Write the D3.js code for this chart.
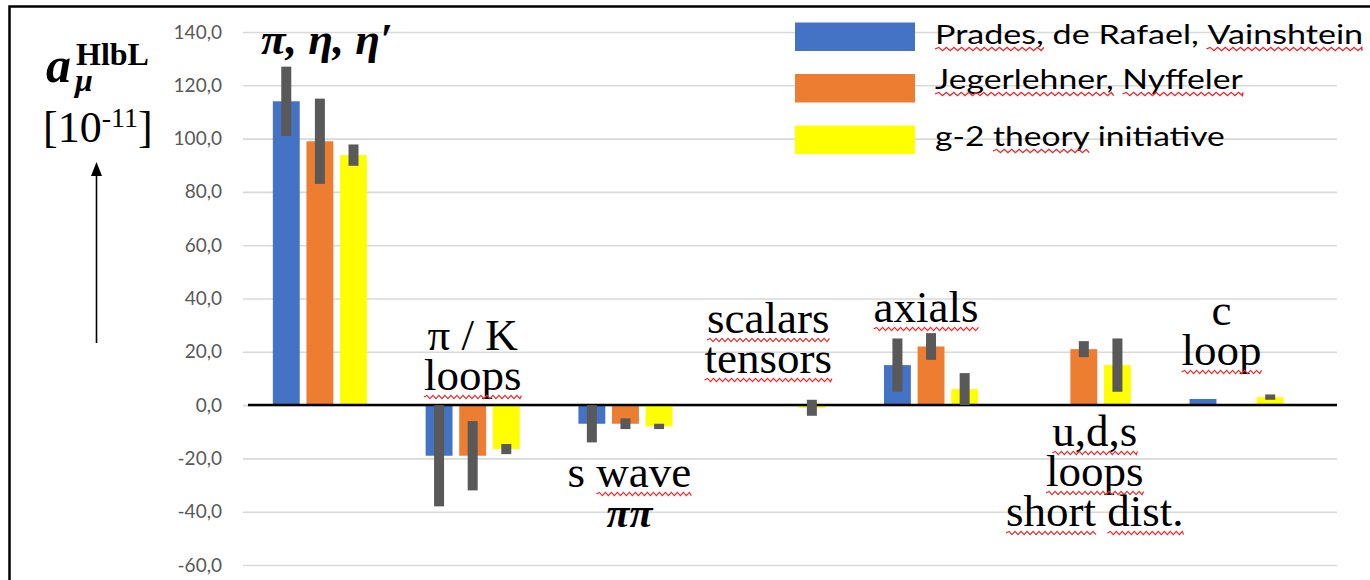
<!DOCTYPE html>
<html>
<head>
<meta charset="utf-8">
<script src="https://cdn.jsdelivr.net/npm/d3@7"></script>
<style>
  body { margin: 0; background: #fff; }
  svg { display: block; }
</style>
</head>
<body>
<svg width="1370" height="580"></svg>
<script>
// Categories and their text labels (one entry per line)
const categories = ["pseudoscalars", "piK", "swave", "scalars", "axials", "uds", "charm"];
const catLabels = [
    ["π, η, η′"],
    ["π / K", "loops"],
    ["s wave", "ππ"],
    ["scalars", "tensors"],
    ["axials"],
    ["u,d,s", "loops", "short dist."],
    ["c", "loop"]
];
// lines typeset in bold italic (math)
const catLabelMath = [[true], [false, false], [false, true], [false, false], [false], [false, false, false], [false, false]];

// Series (legend order)
const seriesNames = ["Prades, de Rafael, Vainshtein", "Jegerlehner, Nyffeler", "g-2 theory initiative"];
const seriesColors = ["#4472C4", "#ED7D31", "#FFFF00"];

// Values in units of 10^-11 (null = no contribution shown)
const pdrvValues = [114, -19, -7, null, 15, null, 2.3];
const pdrvErrors = [13, 19, 7, null, 10, null, 0];
const jnValues   = [99, -19, -7, null, 22, 21, null];
const jnErrors   = [16, 13, 2, null, 5, 3, null];
const wpValues   = [93.8, -16.5, -8, -1, 6, 15, 3];
const wpErrors   = [4, 1.9, 1, 3, 6, 10, 1];

const yTicks = [-60, -40, -20, 0, 20, 40, 60, 80, 100, 120, 140];

// words marked by the spell checker in the original slide
const spellMarked = new Set(["loops", "wave", "scalars", "tensors", "axials", "u,d,s", "short", "dist.", "loop",
                             "Prades,", "Vainshtein", "Jegerlehner,", "Nyffeler", "theory"]);

const svg = d3.select("svg");

// plot geometry
const plotLeft = 243, plotRight = 1337;

const x0 = d3.scaleBand()
    .domain(categories)
    .range([243.5, 1313])
    .paddingInner(0.384)
    .paddingOuter(0.192);

const x1 = d3.scaleBand()
    .domain(seriesNames)
    .range([0, x0.bandwidth()])
    .paddingInner(0.2);

const y = d3.scaleLinear()
    .domain([-60, 140])
    .range([565, 32]);

const color = d3.scaleOrdinal().domain(seriesNames).range(seriesColors);

// frame around the slide region
svg.append("rect")
    .attr("x", 9.5).attr("y", 6.5)
    .attr("width", 1500).attr("height", 700)
    .attr("fill", "none")
    .attr("stroke", "#000")
    .attr("stroke-width", 2.5);

// y axis with grid lines
svg.append("g")
    .attr("transform", `translate(${plotLeft},0)`)
    .call(d3.axisLeft(y)
        .tickValues(yTicks)
        .tickSize(-(plotRight - plotLeft))
        .tickPadding(21)
        .tickFormat(d => d3.format(".1f")(d).replace(".", ",").replace("−", "-")))
    .call(g => g.select(".domain").remove())
    .call(g => g.selectAll(".tick line").attr("stroke", "#d9d9d9").attr("stroke-width", 1.6))
    .call(g => g.selectAll(".tick text")
        .attr("fill", "#595959")
        .style("font-family", "Lato, 'Open Sans', sans-serif")
        .style("font-size", "19px"));

// flatten data for drawing
const rows = [
    { values: pdrvValues, errors: pdrvErrors },
    { values: jnValues, errors: jnErrors },
    { values: wpValues, errors: wpErrors }
];
const bars = [];
categories.forEach((c, i) => {
    seriesNames.forEach((s, j) => {
        const v = rows[j].values[i];
        if (v === null) return;
        bars.push({ cat: c, series: s, value: v, error: rows[j].errors[i] });
    });
});

const barG = svg.append("g");
barG.selectAll("rect")
    .data(bars)
    .join("rect")
    .attr("x", d => x0(d.cat) + x1(d.series))
    .attr("width", x1.bandwidth())
    .attr("y", d => y(Math.max(0, d.value)))
    .attr("height", d => Math.abs(y(d.value) - y(0)))
    .attr("fill", d => color(d.series));

// zero line
svg.append("line")
    .attr("x1", 248).attr("x2", plotRight)
    .attr("y1", y(0)).attr("y2", y(0))
    .attr("stroke", "#000")
    .attr("stroke-width", 2.5);

// error bars (thick dark grey)
const errW = 10;
svg.append("g").selectAll("rect")
    .data(bars.filter(d => d.error > 0))
    .join("rect")
    .attr("x", d => x0(d.cat) + x1(d.series) + x1.bandwidth() / 2 - errW / 2)
    .attr("width", errW)
    .attr("y", d => y(d.value + d.error))
    .attr("height", d => y(d.value - d.error) - y(d.value + d.error))
    .attr("fill", "#595959");

// wavy red underline
function squiggle(g, xa, xb, yy) {
    const p = d3.path();
    p.moveTo(xa, yy);
    let up = true;
    for (let xx = xa; xx < xb; xx += 3) {
        p.lineTo(Math.min(xx + 3, xb), yy + (up ? -1.6 : 1.6));
        up = !up;
    }
    g.append("path")
        .attr("d", p.toString())
        .attr("fill", "none")
        .attr("stroke", "#ee2a2a")
        .attr("stroke-width", 1.2);
}

// writes a line word by word so misspelt words can be underlined
function writeLine(g, str, xx, yy, anchor, style) {
    const t = g.append("text")
        .attr("x", xx).attr("y", yy)
        .attr("text-anchor", anchor)
        .style("font-family", style.family)
        .style("font-size", style.size + "px")
        .style("font-weight", style.weight || "normal")
        .style("font-style", style.italic ? "italic" : "normal")
        .attr("fill", "#000");
    const words = str.split(" ");
    words.forEach((w, k) => {
        t.append("tspan")
            .attr("class", spellMarked.has(w) ? "sq" : null)
            .text(w + (k < words.length - 1 ? " " : ""));
    });
    t.selectAll("tspan.sq").each(function() {
        const n = this;
        const start = n.getStartPositionOfChar(0).x;
        const len = n.textContent.trim().length;
        const end = n.getEndPositionOfChar(len - 1).x;
        squiggle(g, start, end, yy + style.sqOffset);
    });
    return t;
}

// category labels placed near their bars
const labelLayout = [
    { dx: 7, y: 54 },
    { dx: 0, y: 350 },
    { dx: 4, y: 487 },
    { dx: -10, y: 333 },
    { dx: -5, y: 322 },
    { dx: 11, y: 446 },
    { dx: -15, y: 325 }
];
const lineH = 40;
const labelG = svg.append("g");
categories.forEach((c, i) => {
    const cx = x0(c) + x0.bandwidth() / 2 + labelLayout[i].dx;
    catLabels[i].forEach((line, k) => {
        const math = catLabelMath[i][k];
        writeLine(labelG, line, cx, labelLayout[i].y + k * lineH, "middle", {
            family: "'Liberation Serif', 'Times New Roman', serif",
            size: math ? (k === 0 ? 45 : 42) : 45,
            weight: math ? "bold" : "normal",
            italic: math,
            sqOffset: 7
        });
    });
});

// legend (text widened to the slide's stretched look)
const legendX = 795, legendTextX = 935;
const legendTextY = [44, 89, 146];
const legendWidths = [427, 308, 290];
const legendG = svg.append("g");
seriesNames.forEach((s, j) => {
    legendG.append("rect")
        .attr("x", legendX).attr("y", 22.5 + j * 51.5)
        .attr("width", 120).attr("height", 28.5)
        .attr("fill", color(s));
    const row = legendG.append("g");
    const t = writeLine(row, s, legendTextX, legendTextY[j], "start", {
        family: "Lato, 'Open Sans', sans-serif",
        size: 27,
        sqOffset: 5
    });
    const natural = t.node().getComputedTextLength();
    const sx = legendWidths[j] / natural;
    row.attr("transform", `translate(${legendTextX},0) scale(${sx},1) translate(${-legendTextX},0)`);
});

// y axis title: a_mu^HlbL [10^-11] with an arrow
const title = svg.append("g").attr("fill", "#000");
title.append("text")
    .attr("x", 46).attr("y", 82)
    .style("font-family", "'Liberation Serif', serif")
    .style("font-size", "50px").style("font-weight", "bold").style("font-style", "italic")
    .text("a");
title.append("text")
    .attr("x", 76).attr("y", 65)
    .style("font-family", "'Liberation Serif', serif")
    .style("font-size", "32px").style("font-weight", "bold")
    .text("HlbL");
title.append("text")
    .attr("x", 75).attr("y", 91)
    .style("font-family", "'Liberation Serif', serif")
    .style("font-size", "32px").style("font-weight", "bold").style("font-style", "italic")
    .text("μ");
const unit = title.append("text")
    .attr("x", 43).attr("y", 142)
    .style("font-family", "'Liberation Serif', serif")
    .style("font-size", "44px");
unit.append("tspan").text("[10");
unit.append("tspan").attr("dy", -15).style("font-size", "28px").text("-11");
unit.append("tspan").attr("dy", 15).text("]");

svg.append("line")
    .attr("x1", 96.5).attr("x2", 96.5)
    .attr("y1", 343).attr("y2", 174)
    .attr("stroke", "#000").attr("stroke-width", 1.6);
svg.append("path")
    .attr("d", "M96.5,162 L91,176 L102,176 Z")
    .attr("fill", "#000");
</script>
</body>
</html>
